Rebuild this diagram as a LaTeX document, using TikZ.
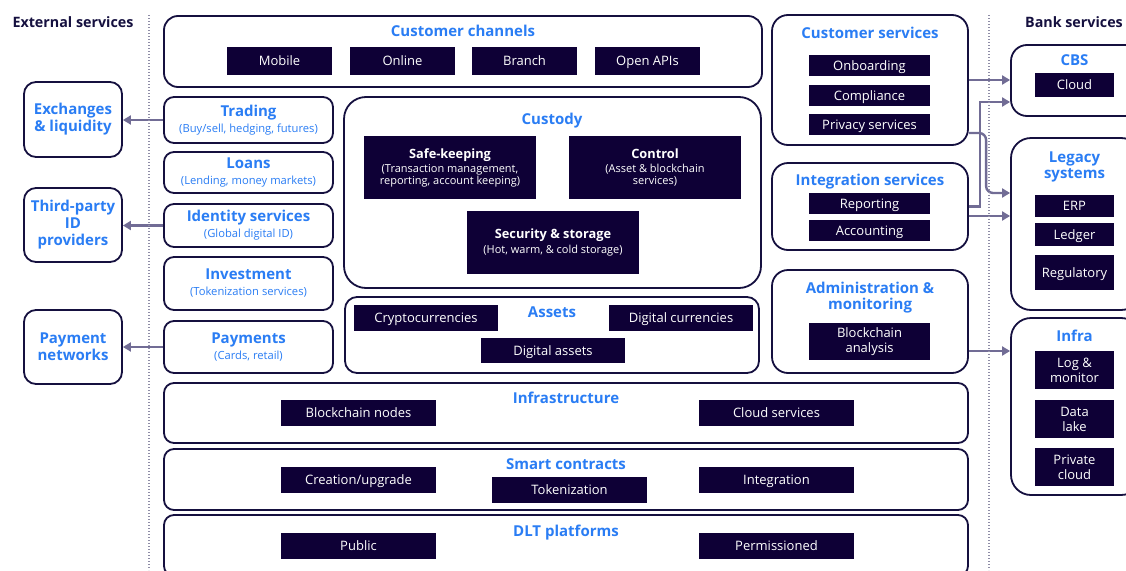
\documentclass[tikz,border=0pt]{standalone}
\usepackage{fontspec}
\setmainfont{Open Sans}
\usepackage{tikz}
\usetikzlibrary{arrows.meta}

\definecolor{navy}{HTML}{15103F}
\definecolor{inkbox}{HTML}{0E0036}
\definecolor{skyblue}{HTML}{2A7DF4}
\definecolor{linkgray}{HTML}{716C95}
\definecolor{dotgray}{HTML}{8E8CA6}

\newcommand{\subtxt}[1]{{\fontsize{11.2}{12}\selectfont\mdseries #1}}
\newcommand{\boxhead}[1]{{\fontsize{12.8}{14}\selectfont\bfseries #1}}

\begin{document}
\begin{tikzpicture}[x=1pt, y=-1pt,
    panel/.style={draw=navy, line width=1.8pt, fill=white, inner sep=0pt, rounded corners=#1},
    panel/.default=12pt,
    svc/.style={minimum width=169pt, text=skyblue, align=center, font=\fontsize{15}{16}\selectfont\bfseries},
    ext/.style={minimum width=98pt, text=skyblue, align=center, font=\fontsize{15}{17}\selectfont\bfseries},
    darkbox/.style={fill=inkbox, text=white, inner sep=0pt, align=center, font=\fontsize{13}{15}\selectfont},
    inkline/.style={darkbox, text height=9.3pt, text depth=0pt},
    ttl/.style={text=skyblue, inner sep=0pt, align=center, font=\fontsize{15}{16}\selectfont\bfseries},
    oneline/.style={text height=10.7pt, text depth=0pt},
    head/.style={text=navy, inner sep=0pt, font=\fontsize{14.3}{16}\selectfont\bfseries, text height=10.2pt, text depth=0pt},
    conn/.style={draw=linkgray, line width=2.4pt, -{Triangle[length=8pt, width=9pt]}},
    divider/.style={draw=dotgray, line width=1.2pt, dash pattern=on 1.2pt off 1.8pt}]

    \path[use as bounding box, clip] (0,0) rectangle (1126,570);

    % column headers
    \node[head] (exthead) at (73,22) {External services};
    \node[head] (bankhead) at (1074,22) {Bank services};

    % customer channels
    \node[panel=14pt, minimum width=598pt, minimum height=71pt] (channels) at (463,51.5) {};
    \node[ttl, oneline] (channelsT) at (463,31) {Customer channels};
    \node[inkline, minimum width=105pt, minimum height=28pt] (mobile) at (279.5,61) {Mobile};
    \node[inkline, minimum width=105pt, minimum height=28pt] (online) at (402.5,61) {Online};
    \node[inkline, minimum width=105pt, minimum height=28pt] (branch) at (524.5,61) {Branch};
    \node[inkline, minimum width=105pt, minimum height=28pt] (openapi) at (647.5,61) {Open APIs};

    % front services
    \node[panel=10pt, svc, minimum height=46pt] (trading) at (248.5,120) {Trading\\\subtxt{(Buy/sell, hedging, futures)}};
    \node[panel=10pt, svc, minimum height=41pt] (loans) at (248.5,172.5) {Loans\\\subtxt{(Lending, money markets)}};
    \node[panel=10pt, svc, minimum height=43pt] (identity) at (248.5,225.5) {Identity services\\\subtxt{(Global digital ID)}};
    \node[panel=10pt, svc, minimum height=53pt] (invest) at (248.5,283.5) {Investment\\\subtxt{(Tokenization services)}};
    \node[panel=10pt, svc, minimum height=52pt] (payments) at (248.5,347) {Payments\\\subtxt{(Cards, retail)}};

    % external services
    \node[panel=12pt, ext, minimum height=75pt] (exch) at (73,119.5) {Exchanges\\\& liquidity};
    \node[panel=12pt, ext, minimum height=74pt] (thirdid) at (73,225) {Third-party\\ID\\providers};
    \node[panel=12pt, ext, minimum height=74pt] (paynet) at (73,347) {Payment\\networks};

    % custody
    \node[panel=22pt, minimum width=417pt, minimum height=191pt] (custody) at (552.5,192.5) {};
    \node[ttl, oneline] (custodyT) at (552,119) {Custody};
    \node[darkbox, minimum width=172pt, minimum height=63pt, font=\fontsize{11}{11.5}\selectfont] (safe) at (450,167.5) {\boxhead{Safe-keeping}\\[3pt](Transaction management,\\reporting, account keeping)};
    \node[darkbox, minimum width=172pt, minimum height=63pt, font=\fontsize{11}{11.5}\selectfont] (control) at (655,167.5) {\boxhead{Control}\\[3pt](Asset \& blockchain\\services)};
    \node[darkbox, minimum width=172pt, minimum height=63pt, font=\fontsize{11}{11.5}\selectfont] (security) at (553,242.5) {\boxhead{Security \& storage}\\[3pt](Hot, warm, \& cold storage)};

    % assets
    \node[panel=12pt, minimum width=414pt, minimum height=76pt] (assets) at (552,335) {};
    \node[ttl, oneline] (assetsT) at (552,312) {Assets};
    \node[inkline, minimum width=144pt, minimum height=26pt] (crypto) at (426,318) {Cryptocurrencies};
    \node[inkline, minimum width=144pt, minimum height=26pt] (digcur) at (681,318) {Digital currencies};
    \node[inkline, minimum width=144pt, minimum height=25pt] (digassets) at (553,350.5) {Digital assets};

    % back office services
    \node[panel=16pt, minimum width=196pt, minimum height=130pt] (custsvc) at (870,80) {};
    \node[ttl, oneline] (custsvcT) at (870,33.5) {Customer services};
    \node[inkline, minimum width=121pt, minimum height=21pt] (onboard) at (869.5,65.5) {Onboarding};
    \node[inkline, minimum width=121pt, minimum height=21pt] (comply) at (869.5,95.5) {Compliance};
    \node[inkline, minimum width=121pt, minimum height=21pt] (privacy) at (869.5,124.5) {Privacy services};

    \node[panel=16pt, minimum width=196pt, minimum height=87pt] (intsvc) at (870,206.5) {};
    \node[ttl, oneline] (intsvcT) at (870,180.5) {Integration services};
    \node[inkline, minimum width=121pt, minimum height=21pt] (report) at (869.5,203.5) {Reporting};
    \node[inkline, minimum width=121pt, minimum height=21pt] (account) at (869.5,230.5) {Accounting};

    \node[panel=16pt, minimum width=196pt, minimum height=103pt] (admin) at (870,321.5) {};
    \node[ttl] (adminT) at (870,298) {Administration \&\\monitoring};
    \node[darkbox, minimum width=121pt, minimum height=37pt] (chainan) at (869.5,341.5) {Blockchain\\analysis};

    % bank services
    \node[panel=16pt, minimum width=130pt, minimum height=71pt] (cbs) at (1076,80.5) {};
    \node[ttl, oneline] (cbsT) at (1074.5,60) {CBS};
    \node[inkline, minimum width=79pt, minimum height=24pt] (cloud) at (1074.5,85) {Cloud};

    \node[panel=20pt, minimum width=130pt, minimum height=172pt] (legacy) at (1076,224) {};
    \node[ttl] (legacyT) at (1074.5,167) {Legacy\\systems};
    \node[inkline, minimum width=79pt, minimum height=22pt] (erp) at (1074.5,206) {ERP};
    \node[inkline, minimum width=79pt, minimum height=23pt] (ledger) at (1074.5,234.5) {Ledger};
    \node[inkline, minimum width=79pt, minimum height=35pt] (regul) at (1074.5,272.5) {Regulatory};

    \node[panel=20pt, minimum width=130pt, minimum height=177pt] (infra) at (1076,406.5) {};
    \node[ttl, oneline] (infraT) at (1074.5,336) {Infra};
    \node[darkbox, minimum width=79pt, minimum height=38pt] (logmon) at (1074.5,370) {Log \&\\monitor};
    \node[darkbox, minimum width=79pt, minimum height=38pt] (datalake) at (1074.5,419) {Data\\lake};
    \node[darkbox, minimum width=79pt, minimum height=38pt] (privcloud) at (1074.5,467) {Private\\cloud};

    % base layers
    \node[panel=10pt, minimum width=804pt, minimum height=60pt] (infrastr) at (566,413) {};
    \node[ttl, oneline] (infrastrT) at (566,398) {Infrastructure};
    \node[inkline, minimum width=155pt, minimum height=26pt] (nodes) at (358.5,413) {Blockchain nodes};
    \node[inkline, minimum width=155pt, minimum height=26pt] (cloudsvc) at (776.5,413) {Cloud services};

    \node[panel=10pt, minimum width=804pt, minimum height=61pt] (smart) at (566,479.5) {};
    \node[ttl, oneline] (smartT) at (566,464) {Smart contracts};
    \node[inkline, minimum width=155pt, minimum height=26pt] (creation) at (358.5,480) {Creation/upgrade};
    \node[inkline, minimum width=155pt, minimum height=26pt] (token) at (569.5,490) {Tokenization};
    \node[inkline, minimum width=155pt, minimum height=26pt] (integr) at (776.5,480) {Integration};

    \node[panel=10pt, minimum width=804pt, minimum height=61pt] (dlt) at (566,545.5) {};
    \node[ttl, oneline] (dltT) at (566,531) {DLT platforms};
    \node[inkline, minimum width=155pt, minimum height=26pt] (public) at (358.5,546) {Public};
    \node[inkline, minimum width=155pt, minimum height=26pt] (permis) at (776.5,546) {Permissioned};

    % links
    \draw[conn] (trading.west) -- (trading.west -| exch.east);
    \draw[conn] (identity.west) -- (identity.west -| thirdid.east);
    \draw[conn] (payments.west) -- (payments.west -| paynet.east);
    \draw[conn] (custsvc.east) -- (custsvc.east -| cbs.west);
    \draw[conn] (intsvc.east) -- ++(11,0) |- ([yshift=-21.5pt]cbs.west);
    \draw[conn, rounded corners=7pt] ([yshift=-53pt]custsvc.east) -| ([xshift=-24pt, yshift=31pt]legacy.west) -- ([yshift=31pt]legacy.west);
    \draw[conn] ([yshift=-9.5pt]intsvc.east) -- ([yshift=-9.5pt]intsvc.east -| legacy.west);
    \draw[conn] ([yshift=-29.5pt]admin.east) -- ([yshift=-29.5pt]admin.east -| infra.west);

    % dividers
    \coordinate (divLtop) at (149,15);
    \coordinate (divLbot) at (149,570);
    \coordinate (divRtop) at (989,15);
    \coordinate (divRbot) at (989,570);
    \draw[divider] (divLtop) -- (divLbot);
    \draw[divider] (divRtop) -- (divRbot);
\end{tikzpicture}
\end{document}
